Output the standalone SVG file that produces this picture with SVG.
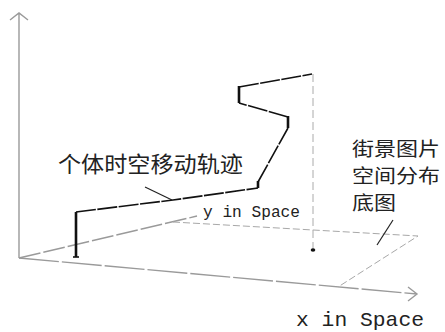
<svg xmlns="http://www.w3.org/2000/svg" width="445" height="332" viewBox="0 0 445 332">
<style>
.axis{fill:none;stroke:#9a9a9a;stroke-width:1.4}
.edge{fill:none;stroke:#a8a8a8;stroke-width:1;stroke-dasharray:7 3}
.traj{fill:none;stroke:#111;stroke-width:1.6;stroke-dasharray:20 1.5;stroke-linejoin:round}
.post{fill:none;stroke:#111;stroke-width:2.6}
.lead{fill:none;stroke:#222;stroke-width:1.2}
.cjk{font-family:"Noto Sans CJK SC","Noto Sans CJK JP",sans-serif;fill:#222}
.mono{font-family:"Liberation Mono","DejaVu Sans Mono",monospace;fill:#222}
</style>
<rect width="445" height="332" fill="#fff"/>
<g id="connectors">
<path class="axis" d="M19,258 V13 M10,20 L19,13 L28,20"/>
<path class="axis" d="M19,258 L417,294 M408,287 L417,294 L408,301" stroke-dasharray="40 3"/>
<path class="axis" d="M19,258 L197,216" stroke-width="1.1" stroke-dasharray="22 3"/>
<path class="edge" d="M173,222 L418,236 L338,287"/>
<path d="M313,74 V250" fill="none" stroke="#aaa" stroke-width="1" stroke-dasharray="8 4"/>
<ellipse cx="313" cy="250" rx="2.3" ry="1.8" fill="#111"/>
<path class="traj" d="M76,212 L173,200 L258,188 M258,182 L288,128 M288,117 L239,103 M239,87 L312,74"/>
<path class="post" d="M76,257 V212 M258,188 V181 M288,128 V116 M239,103 V86"/>
<path d="M73,257 H79" stroke="#111" stroke-width="1.6"/>
<path class="lead" d="M145,187 L172,200"/>
<path class="lead" d="M393,220 L377,245"/>
</g>
<g id="label-trajectory">
<text class="cjk" x="58" y="172" font-size="22" textLength="185" lengthAdjust="spacingAndGlyphs">个体时空移动轨迹</text>
</g>
<g id="label-base">
<text class="cjk" x="352" y="156" font-size="19" textLength="88" lengthAdjust="spacingAndGlyphs">街景图片</text>
<text class="cjk" x="352" y="183" font-size="19" textLength="88" lengthAdjust="spacingAndGlyphs">空间分布</text>
<text class="cjk" x="352" y="210" font-size="19" textLength="44" lengthAdjust="spacingAndGlyphs">底图</text>
</g>
<g id="label-y">
<text class="mono" x="203" y="217" font-size="16" textLength="97" lengthAdjust="spacingAndGlyphs">y in Space</text>
</g>
<g id="label-x">
<text class="mono" x="296" y="326" font-size="21" textLength="128" lengthAdjust="spacingAndGlyphs">x in Space</text>
</g>
</svg>
